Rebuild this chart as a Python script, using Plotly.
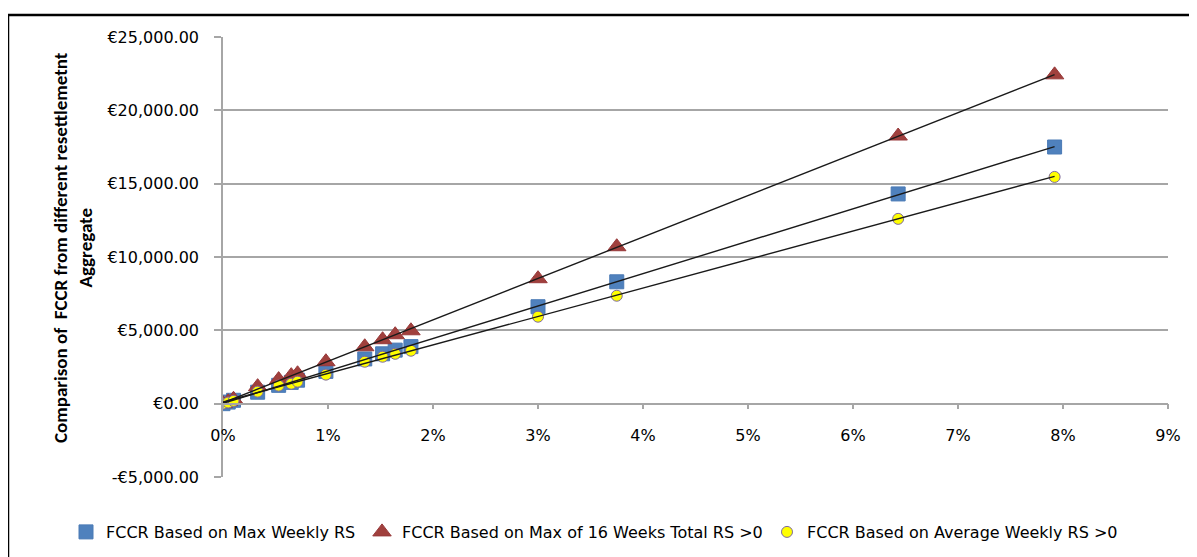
import numpy as np
import plotly.graph_objects as go

# Data (x = resettlement share, y = FCCR in EUR)
x_vals = [0.0, 0.0005, 0.001, 0.0033, 0.0053, 0.0065, 0.0071, 0.0098, 0.0135,
          0.0152, 0.0164, 0.0179, 0.0300, 0.0375, 0.0643, 0.0792]
max_weekly = [0, 110, 230, 780, 1250, 1450, 1600, 2200, 3050,
              3400, 3650, 3890, 6610, 8310, 14300, 17500]
max_16wk = [0, 130, 300, 1160, 1640, 1910, 2040, 2860, 3880,
            4360, 4700, 4970, 8520, 10700, 18250, 22420]
avg_weekly = [0, 80, 190, 820, 1230, 1360, 1500, 1980, 2860,
              3200, 3400, 3610, 5930, 7360, 12600, 15460]

series_names = ["FCCR Based on Max Weekly RS",
                "FCCR Based on Max of 16 Weeks Total RS >0",
                "FCCR Based on Average Weekly RS >0"]

y_tickvals = [-5000, 0, 5000, 10000, 15000, 20000, 25000]
y_ticktext = ["-€5,000.00", "€0.00", "€5,000.00", "€10,000.00",
              "€15,000.00", "€20,000.00", "€25,000.00"]
x_tickvals = [0, 0.01, 0.02, 0.03, 0.04, 0.05, 0.06, 0.07, 0.08, 0.09]
x_ticktext = ["0%", "1%", "2%", "3%", "4%", "5%", "6%", "7%", "8%", "9%"]

OFF = 8  # default page body margin
W, H = 1197 - OFF, 557 - OFF
ML, MR, MT, MB = 223 - OFF, 29, 37 - OFF, 80
PW, PH = W - ML - MR, H - MT - MB
PLOT_L, PLOT_B = 223, 477  # page coordinates of plot-area corner


def px_x(p):
    return (p - PLOT_L) / PW


def px_y(p):
    return (PLOT_B - p) / PH


fig = go.Figure()

fig.add_trace(go.Scatter(
    x=x_vals, y=max_weekly, mode="markers", name=series_names[0], legend="legend",
    marker=dict(symbol="square", size=14, color="#4F81BD",
                line=dict(color="#4A7AB5", width=1))))
fig.add_trace(go.Scatter(
    x=x_vals, y=max_16wk, mode="markers", name=series_names[1], legend="legend2",
    marker=dict(symbol="triangle-up", size=16, color="#A0403D",
                line=dict(color="#98393A", width=1))))
fig.add_trace(go.Scatter(
    x=x_vals, y=avg_weekly, mode="markers", name=series_names[2], legend="legend3",
    marker=dict(symbol="circle", size=11, color="#FFFF00",
                line=dict(color="#7E6A9E", width=1))))

# Linear trendlines (as in the spreadsheet chart)
xa = np.array(x_vals)
for ys in (max_weekly, max_16wk, avg_weekly):
    m, c = np.polyfit(xa, np.array(ys, dtype=float), 1)
    xs = [0.0, xa.max()]
    fig.add_trace(go.Scatter(
        x=xs, y=[m * v + c for v in xs], mode="lines", showlegend=False,
        hoverinfo="skip", line=dict(color="#1a1a1a", width=1.4)))


def legend_at(text_px):
    return dict(orientation="h", xref="container", yref="container",
                x=(text_px - 38 - OFF) / W, xanchor="left",
                y=1 - (532 - OFF) / H, yanchor="middle",
                font=dict(family="DejaVu Sans", size=16),
                itemwidth=30, bgcolor="rgba(0,0,0,0)")


fig.update_layout(
    width=W, height=H,
    margin=dict(l=ML, r=MR, t=MT, b=MB, autoexpand=False),
    paper_bgcolor="white", plot_bgcolor="white",
    font=dict(family="DejaVu Sans", size=16, color="#000"),
    showlegend=True,
    legend=legend_at(104),
    legend2=legend_at(400),
    legend3=legend_at(805),
    xaxis=dict(range=[0, 0.09], tickvals=x_tickvals, ticktext=x_ticktext,
               showgrid=False, zeroline=False, showline=True, automargin=False,
               linecolor="#A6A6A6", linewidth=1.5,
               ticks="outside", ticklen=5, tickcolor="#A6A6A6", tickwidth=1.5,
               anchor="free", position=1 / 6, ticklabelstandoff=12),
    yaxis=dict(range=[-5000, 25000], tickvals=y_tickvals, ticktext=y_ticktext,
               showgrid=True, gridcolor="#A6A6A6", gridwidth=1.5, automargin=False,
               zeroline=False, showline=True, linecolor="#A6A6A6", linewidth=1.5,
               ticks="outside", ticklen=7, tickcolor="#A6A6A6", tickwidth=1.5,
               ticklabelstandoff=12),
)

# Y-axis title
fig.add_annotation(
    text="<b>Comparison of  FCCR from different resettlemetnt<br>Aggregate</b>",
    xref="paper", yref="paper", x=px_x(73), y=px_y(248),
    xanchor="center", yanchor="middle", textangle=-90, showarrow=False,
    font=dict(family="Carlito, Liberation Sans Narrow, Liberation Sans, sans-serif",
              size=19, color="#000"))

# Outer chart border
fig.add_shape(type="rect", xref="paper", yref="paper",
              x0=px_x(8), x1=px_x(1215), y0=px_y(600), y1=px_y(15),
              line=dict(color="#000", width=2.5), fillcolor="rgba(0,0,0,0)",
              layer="below")

fig.write_html("out.html")
